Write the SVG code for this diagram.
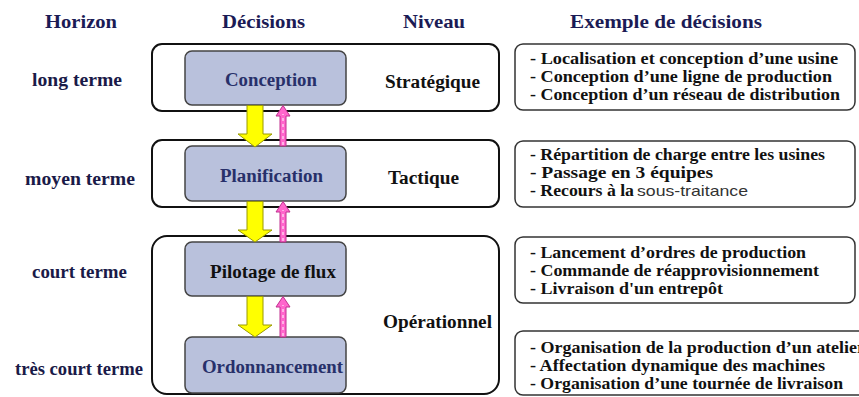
<svg xmlns="http://www.w3.org/2000/svg" width="859" height="397" viewBox="0 0 859 397">
<defs>
<style>
.hdr{font-family:"Liberation Serif","Times New Roman",serif;font-weight:bold;font-size:19px;fill:#1b1b55}
.hz{font-family:"Liberation Serif","Times New Roman",serif;font-weight:bold;font-size:18px;fill:#1a1a48}
.dec{font-family:"Liberation Serif","Times New Roman",serif;font-weight:bold;font-size:18px;fill:#27306a}
.niv{font-family:"Liberation Serif","Times New Roman",serif;font-weight:bold;font-size:18px;fill:#111}
.ex{font-family:"Liberation Serif","Times New Roman",serif;font-weight:bold;font-size:17px;fill:#111}
.sans{font-family:"Liberation Sans",Arial,sans-serif;font-weight:normal;font-size:15px;fill:#333}
.outer{fill:#fff;stroke:#111;stroke-width:2}
.inner{fill:#b9c1dc;stroke:#444;stroke-width:1.5}
.exbox{fill:#fff;stroke:#333;stroke-width:1.5}
.down{fill:#ffff00;stroke:#9a9a00;stroke-width:1}
.up{fill:#ff66cc;stroke:#c0308f;stroke-width:1}
.dash{stroke:#fff;stroke-width:1;stroke-dasharray:3 3;fill:none}
</style>
</defs>

<g id="headers">
<text class="hdr" x="45" y="28" textLength="72" lengthAdjust="spacingAndGlyphs">Horizon</text>
<text class="hdr" x="222" y="28" textLength="83" lengthAdjust="spacingAndGlyphs">Décisions</text>
<text class="hdr" x="403" y="28" textLength="62" lengthAdjust="spacingAndGlyphs">Niveau</text>
<text class="hdr" x="570" y="28" textLength="192" lengthAdjust="spacingAndGlyphs">Exemple de décisions</text>
</g>

<g id="horizons">
<text class="hz" x="32" y="86" textLength="90" lengthAdjust="spacingAndGlyphs">long terme</text>
<text class="hz" x="25" y="185" textLength="110" lengthAdjust="spacingAndGlyphs">moyen terme</text>
<text class="hz" x="32" y="278" textLength="95" lengthAdjust="spacingAndGlyphs">court terme</text>
<text class="hz" x="15" y="375" textLength="128" lengthAdjust="spacingAndGlyphs">très court terme</text>
</g>

<g id="level-strategique">
<rect class="outer" x="152" y="44" width="347" height="67" rx="10"/>
<text class="niv" x="385" y="88" textLength="95" lengthAdjust="spacingAndGlyphs">Stratégique</text>
</g>
<g id="level-tactique">
<rect class="outer" x="152" y="140" width="347" height="67" rx="10"/>
<text class="niv" x="388" y="184" textLength="71" lengthAdjust="spacingAndGlyphs">Tactique</text>
</g>
<g id="level-operationnel">
<rect class="outer" x="152" y="236" width="347" height="158" rx="15"/>
<text class="niv" x="383" y="328" textLength="109" lengthAdjust="spacingAndGlyphs">Opérationnel</text>
</g>

<g id="conception">
<rect class="inner" x="185" y="51" width="161" height="54" rx="7"/>
<text class="dec" x="225" y="86" textLength="92" lengthAdjust="spacingAndGlyphs">Conception</text>
</g>
<g id="planification">
<rect class="inner" x="185" y="146" width="161" height="55" rx="7"/>
<text class="dec" x="220" y="182" textLength="103" lengthAdjust="spacingAndGlyphs">Planification</text>
</g>
<g id="pilotage">
<rect class="inner" x="185" y="242" width="161" height="54" rx="7"/>
<text class="niv" x="210" y="278" textLength="126" lengthAdjust="spacingAndGlyphs">Pilotage de flux</text>
</g>
<g id="ordonnancement">
<rect class="inner" x="185" y="337" width="161" height="56" rx="7"/>
<text class="dec" x="202" y="373" textLength="141" lengthAdjust="spacingAndGlyphs">Ordonnancement</text>
</g>

<g id="connectors">
<polygon class="down" points="247,105.5 263,105.5 263,134 272,134 255,147 238,134 247,134"/>
<polygon class="down" points="247,201.5 263,201.5 263,230 272,230 255,242 238,230 247,230"/>
<polygon class="down" points="247,296.5 263,296.5 263,325 272,325 255,337 238,325 247,325"/>
<polygon class="up" points="280,146 286,146 286,116 290,116 283,105.5 276,116 280,116"/>
<line class="dash" x1="283" y1="145" x2="283" y2="114"/>
<polygon class="up" points="280,242 286,242 286,212 290,212 283,201.5 276,212 280,212"/>
<line class="dash" x1="283" y1="241" x2="283" y2="210"/>
<polygon class="up" points="280,337 286,337 286,307 290,307 283,296.5 276,307 280,307"/>
<line class="dash" x1="283" y1="336" x2="283" y2="305"/>
</g>

<g id="ex-strategique">
<rect class="exbox" x="515" y="44" width="340" height="66" rx="8"/>
<text class="ex" x="530" y="64" textLength="308" lengthAdjust="spacingAndGlyphs">- Localisation et conception d’une usine</text>
<text class="ex" x="530" y="82" textLength="302" lengthAdjust="spacingAndGlyphs">- Conception d’une ligne de production</text>
<text class="ex" x="530" y="100" textLength="310" lengthAdjust="spacingAndGlyphs">- Conception d’un réseau de distribution</text>
</g>
<g id="ex-tactique">
<rect class="exbox" x="515" y="141" width="340" height="66" rx="8"/>
<text class="ex" x="530" y="160" textLength="295" lengthAdjust="spacingAndGlyphs">- Répartition de charge entre les usines</text>
<text class="ex" x="530" y="178" textLength="183" lengthAdjust="spacingAndGlyphs">- Passage en 3 équipes</text>
<text x="530" y="196"><tspan class="ex" x="530" textLength="104" lengthAdjust="spacingAndGlyphs">- Recours à la</tspan><tspan class="sans" x="637" textLength="111" lengthAdjust="spacingAndGlyphs">sous-traitance</tspan></text>
</g>
<g id="ex-operationnel">
<rect class="exbox" x="515" y="237" width="340" height="66" rx="8"/>
<text class="ex" x="530" y="258" textLength="276" lengthAdjust="spacingAndGlyphs">- Lancement d’ordres de production</text>
<text class="ex" x="530" y="276" textLength="289" lengthAdjust="spacingAndGlyphs">- Commande de réapprovisionnement</text>
<text class="ex" x="530" y="294" textLength="193" lengthAdjust="spacingAndGlyphs">- Livraison d'un entrepôt</text>
</g>
<g id="ex-tres-court">
<rect class="exbox" x="515" y="331" width="360" height="64" rx="8"/>
<text class="ex" x="530" y="353" textLength="335" lengthAdjust="spacingAndGlyphs">- Organisation de la production d’un atelier</text>
<text class="ex" x="530" y="371" textLength="295" lengthAdjust="spacingAndGlyphs">- Affectation dynamique des machines</text>
<text class="ex" x="530" y="389" textLength="313" lengthAdjust="spacingAndGlyphs">- Organisation d’une tournée de livraison</text>
</g>
</svg>
